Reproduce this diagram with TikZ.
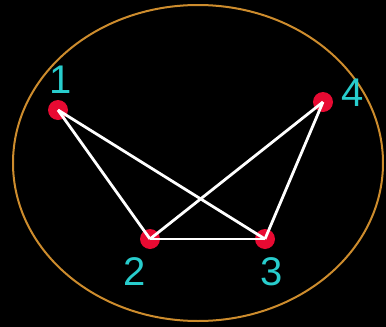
\documentclass[tikz,border=0pt]{standalone}
\usepackage{fontspec}
\setmainfont{Liberation Sans}
\definecolor{ringc}{RGB}{205,140,45}
\definecolor{dotc}{RGB}{232,10,50}
\definecolor{labc}{RGB}{40,205,205}
\begin{document}
\begin{tikzpicture}[x=1pt,y=-1pt,
  vert/.style={circle,fill=dotc,minimum size=20pt,inner sep=0pt},
  edge/.style={white,line width=2.8pt},
  lab/.style={text=labc,font=\fontsize{40}{40}\selectfont,inner sep=0pt}]
\fill[black] (0,0) rectangle (386,327);
\useasboundingbox (0,0) rectangle (386,327);
\draw[ringc,line width=2pt] (198,163) ellipse [x radius=185, y radius=158];
\node[vert] (v1) at (58,110) {};
\node[vert] (v4) at (323,102) {};
\node[vert] (v2) at (150,239) {};
\node[vert] (v3) at (265,239) {};
\draw[edge] (v1.center) -- (v2.center);
\draw[edge] (v1.center) -- (v3.center);
\draw[edge] (v2.center) -- (v3.center);
\draw[edge] (v2.center) -- (v4.center);
\draw[edge] (v3.center) -- (v4.center);
\node[lab] (l1) at (61,80) {1};
\node[lab] (l4) at (353,93) {4};
\node[lab] (l2) at (135,272) {2};
\node[lab] (l3) at (272,272) {3};
\end{tikzpicture}
\end{document}
